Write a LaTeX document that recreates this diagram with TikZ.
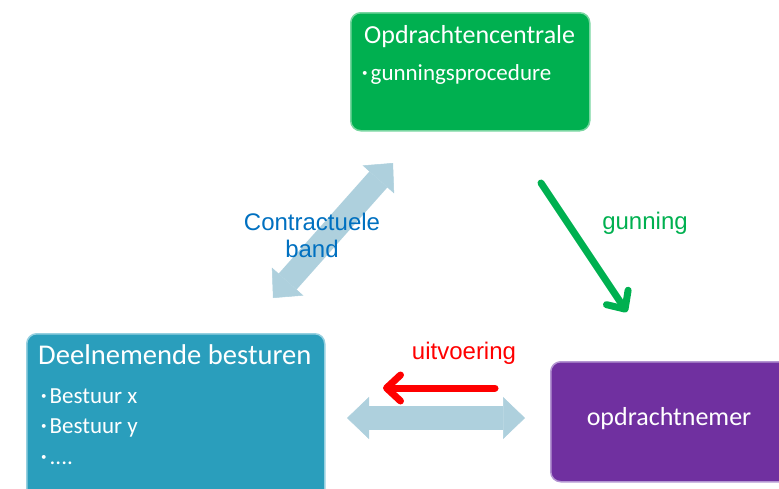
\documentclass[tikz,border=0pt]{standalone}
\usepackage{fontspec}
\setmainfont{Carlito}
\newfontfamily\arialfont{Liberation Sans}
\usepackage{tikz}
\usetikzlibrary{positioning}
\usetikzlibrary{calc}
\usetikzlibrary{arrows.meta}

\definecolor{centralegreen}{RGB}{0,176,80}
\definecolor{centraleborder}{RGB}{120,214,160}
\definecolor{bestuurblue}{RGB}{42,158,188}
\definecolor{bestuurborder}{RGB}{150,208,224}
\definecolor{nemerpurple}{RGB}{112,48,160}
\definecolor{nemerborder}{RGB}{180,150,210}
\definecolor{bandblue}{RGB}{174,208,221}
\definecolor{labelblue}{RGB}{0,112,192}

\newcommand{\bul}{\raisebox{4pt}{\fontsize{11}{11}\selectfont\textbullet}\hspace{3pt}}

\begin{document}
\begin{tikzpicture}[
    x=1pt, y=-1pt,          % pixel grid, y going down
    ]
% -------------------------------------------------
\tikzset{
  box/.style={draw, rounded corners=10pt, line width=1.5pt, minimum height=118pt, anchor=north west, inner sep=0pt},
  boxtitle/.style={text=white, font=\fontsize{26}{28}\selectfont, anchor=base west, inner sep=0pt},
  boxitem/.style={text=white, font=\fontsize{23}{26}\selectfont, anchor=base west, inner sep=0pt},
  lbl/.style={font=\arialfont\fontsize{24}{27}\selectfont, align=center, inner sep=0pt},
  band/.style={draw=bandblue, line width=24pt, {Triangle[length=22pt,width=42pt,line width=0.5pt]}-{Triangle[length=22pt,width=42pt,line width=0.5pt]}},
  flow/.style={draw, line width=7pt, line cap=round, -{Straight Barb[length=14pt,width=26pt,line cap=round,line join=round]}}
}
\useasboundingbox (0,0) rectangle (779,488);
\clip (0,0) rectangle (779,488);

% boxes
\node [box, fill=centralegreen, draw=centraleborder, minimum width=239pt] (centrale) at (350,12) {};
\node [boxtitle] (centraletitle) at ([shift={(14,31)}]centrale.north west) {Opdrachtencentrale};
\node [boxitem] (procedure) at ([shift={(12,68)}]centrale.north west) {\bul gunningsprocedure};

\node [box, fill=bestuurblue, draw=bestuurborder, minimum width=298pt, minimum height=180pt] (besturen) at (26,333) {};
\node [boxtitle, font=\fontsize{28.6}{30}\selectfont] (besturentitle) at ([shift={(12,31)}]besturen.north west) {Deelnemende besturen};
\node [boxitem] (bestuurx) at ([shift={(15,70)}]besturen.north west) {\bul Bestuur x};
\node [boxitem] (bestuury) at ([shift={(15,100)}]besturen.north west) {\bul Bestuur y};
\node [boxitem] (bestuurdots) at ([shift={(15,131)}]besturen.north west) {\bul ....};

\node [box, fill=nemerpurple, draw=nemerborder, minimum width=260pt, minimum height=120pt] (nemer) at (550,361) {};
\node [boxtitle, anchor=base] (nemertitle) at (669,425) {opdrachtnemer};

% connectors
\coordinate (bandlow) at (273,298);
\coordinate (bandhigh) at (393,163);
\coordinate (uitleft) at (347,418);
\coordinate (uitright) at (525,418);
\coordinate (gunstart) at (541,183);
\coordinate (gunend) at (627,312);
\coordinate (uitstart) at (495,388);
\coordinate (uitend) at (383,388);

\path [band] (bandlow) -- (bandhigh);
\path [band] (uitleft) -- (uitright);
\path [flow, draw=centralegreen] (gunstart) -- (gunend);
\path [flow, draw=red] (uitstart) -- (uitend);

% labels
\node [lbl, text=labelblue] (bandlabel) at (312,235) {Contractuele\\band};
\node [lbl, text=centralegreen, anchor=base] (gunninglabel) at (645,229) {gunning};
\node [lbl, text=red, anchor=base] (uitvoeringlabel) at (464,359) {uitvoering};
\end{tikzpicture}
\end{document}
